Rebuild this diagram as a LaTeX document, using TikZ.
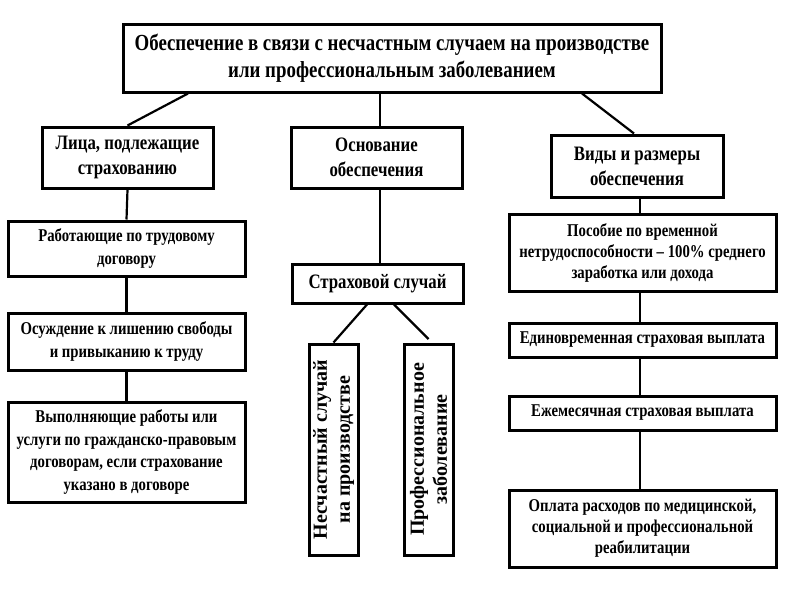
\documentclass[tikz,border=0pt]{standalone}
\usepackage{fontspec}
\setmainfont{Liberation Serif}[FakeStretch=0.82]
\newfontfamily\vertfont{Liberation Serif}
\begin{document}
\begin{tikzpicture}[x=1pt,y=-1pt,
  box/.style={draw, line width=3pt, fill=white, align=center, inner sep=0pt, font=\bfseries},
  conn/.style={line width=2.2pt},
  ftop/.style={font=\bfseries\fontsize{23}{27}\selectfont},
  fmid/.style={font=\bfseries\fontsize{20.5}{25}\selectfont},
  fleft/.style={font=\bfseries\fontsize{18}{22.5}\selectfont},
  fright/.style={font=\bfseries\fontsize{18}{21}\selectfont},
  fvert/.style={font=\vertfont\bfseries\fontsize{20}{23}\selectfont, rotate=90}]
\useasboundingbox (0,0) rectangle (800,600);
\fill[white] (0,0) rectangle (800,600);
% top
\node[box, ftop, minimum width=538pt, minimum height=68pt] (top) at (392,58)
  {Обеспечение в связи с несчастным случаем на производстве\\или профессиональным заболеванием};
% level 2
\node[box, fmid, minimum width=171pt, minimum height=61pt] (lica) at (127.5,157.5)
  {Лица, подлежащие\\страхованию};
\node[box, fmid, minimum width=171pt, minimum height=61pt] (osn) at (376.5,157.5)
  {Основание\\обеспечения};
\node[box, fmid, minimum width=172pt, minimum height=62pt] (vidy) at (637,166)
  {Виды и размеры\\обеспечения};
% left column
\node[box, fleft, minimum width=237pt, minimum height=55pt] (l1) at (126.5,248.5)
  {Работающие по трудовому\\договору};
\node[box, fleft, minimum width=237pt, minimum height=57pt] (l2) at (126.5,341.5)
  {Осуждение к лишению свободы\\и привыканию к труду};
\node[box, fleft, minimum width=237pt, minimum height=100pt] (l3) at (126.5,452)
  {Выполняющие работы или\\услуги по гражданско-правовым\\договорам, если страхование\\указано в договоре};
% middle column
\node[box, fmid, minimum width=171pt, minimum height=39pt] (strah) at (377.5,283.5)
  {Страховой случай};
\node[box, fvert, minimum width=211pt, minimum height=49pt] (v1) at (333.5,449.5)
  {Несчастный случай\\на производстве};
\node[box, fvert, minimum width=211pt, minimum height=49pt] (v2) at (428.5,449.5)
  {Профессиональное\\заболевание};
% right column
\node[box, fright, minimum width=267pt, minimum height=77pt] (r1) at (642.5,252.5)
  {Пособие по временной\\нетрудоспособности – 100\% среднего\\заработка или дохода};
\node[box, fright, minimum width=267pt, minimum height=34pt] (r2) at (642.5,340)
  {Единовременная страховая выплата};
\node[box, fright, minimum width=267pt, minimum height=34pt] (r3) at (642.5,413)
  {Ежемесячная страховая выплата};
\node[box, fright, minimum width=267pt, minimum height=77pt] (r4) at (642.5,528.5)
  {Оплата расходов по медицинской,\\социальной и профессиональной\\реабилитации};
% connectors
\draw[conn] ([xshift=-204pt]top.south) -- (lica.north);
\draw[conn] ([xshift=-12pt]top.south) -- ([xshift=3.5pt]osn.north);
\draw[conn] ([xshift=190pt]top.south) -- ([xshift=-3pt]vidy.north);
\draw[conn] (lica.south) -- (l1.north);
\draw[conn] (l1.south) -- (l2.north);
\draw[conn] (l2.south) -- (l3.north);
\draw[conn] ([xshift=3.5pt]osn.south) -- ([xshift=2.5pt]strah.north);
\draw[conn] ([xshift=-10.5pt]strah.south) -- (v1.east);
\draw[conn] ([xshift=16.5pt]strah.south) -- ([yshift=3.5pt]v2.east);
\draw[conn] ([xshift=3pt]vidy.south) -- ([xshift=-2.5pt]r1.north);
\draw[conn] ([xshift=-2.5pt]r1.south) -- ([xshift=-2.5pt]r2.north);
\draw[conn] ([xshift=-2.5pt]r2.south) -- ([xshift=-2.5pt]r3.north);
\draw[conn] ([xshift=-2.5pt]r3.south) -- ([xshift=-2.5pt]r4.north);
\end{tikzpicture}
\end{document}
